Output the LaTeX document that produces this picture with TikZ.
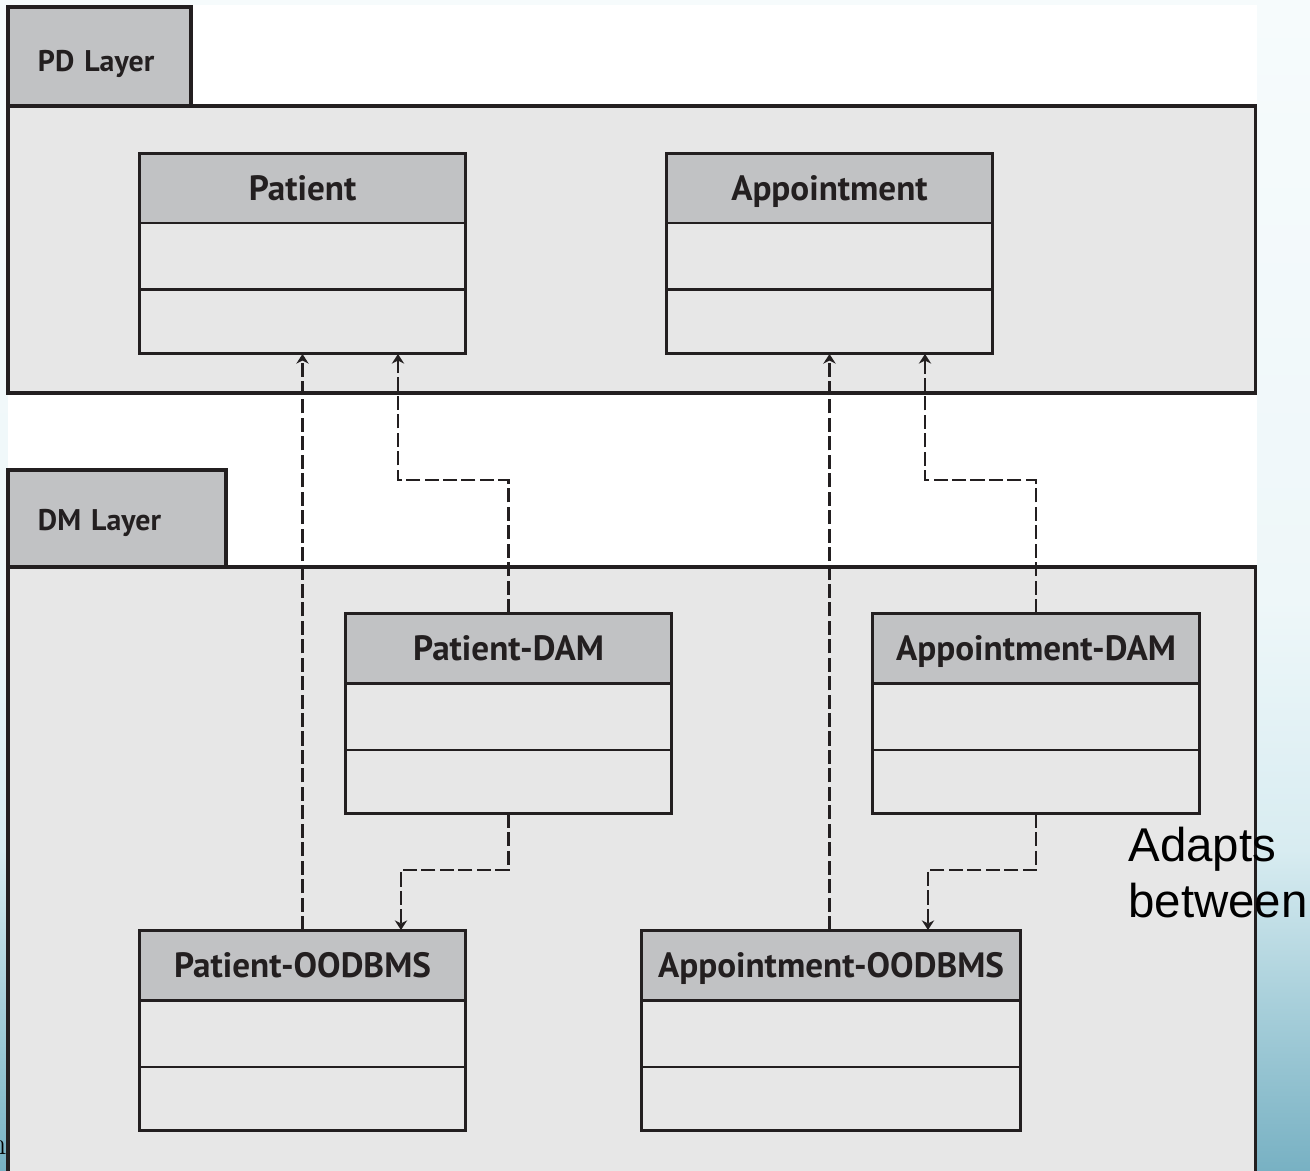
\documentclass[tikz,border=0pt]{standalone}
\usepackage{fontspec}
\newfontfamily\umlfont{PT Sans}
\newfontfamily\slidefont{Liberation Sans}
\usepackage{xcolor}
\usepackage{tikz}
\usetikzlibrary{positioning, arrows.meta, calc}

\definecolor{inkdark}{HTML}{231F20}
\definecolor{headgray}{HTML}{C1C2C4}
\definecolor{bodygray}{HTML}{E7E7E7}
\definecolor{slidetop}{HTML}{F6FBFC}
\definecolor{slidemid}{HTML}{EEF7F9}
\definecolor{slidelow}{HTML}{D8ECF1}
\definecolor{slidedeep}{HTML}{A9D0DB}
\definecolor{slidebot}{HTML}{78B1C3}

\begin{document}
\begin{tikzpicture}[x=0.02cm, y=-0.02cm, >={Stealth[length=5.5pt, width=7pt]}]
    % Styles
    \tikzstyle{layer} = [rectangle, draw=inkdark, line width=1.8pt, fill=bodygray, anchor=north west, minimum width=24.96cm, inner sep=0pt, outer sep=0pt]
    \tikzstyle{tab} = [rectangle, draw=inkdark, line width=1.8pt, fill=headgray, anchor=south west, outer sep=0pt, inner xsep=0.6cm, align=left, text depth=0pt, text=inkdark, font=\umlfont\bfseries\fontsize{17}{20}\selectfont]
    \tikzstyle{classhead} = [rectangle, draw=inkdark, line width=1.7pt, fill=headgray, minimum width=6.54cm, minimum height=1.4cm, outer sep=0pt, text height=14pt, text depth=0pt, text=inkdark, font=\umlfont\bfseries\fontsize{20}{24}\selectfont]
    \tikzstyle{classpart} = [rectangle, draw=inkdark, line width=1.7pt, fill=bodygray, minimum width=6.54cm, minimum height=1.34cm, outer sep=0pt]
    \tikzstyle{dep} = [->, dashed, dash pattern=on 8pt off 2.5pt, line width=1.5pt, draw=inkdark]

    % Slide behind the picture
    \clip (0,0) rectangle (1310,1170);
    \fill[top color=slidetop, bottom color=slidemid] (0,0) rectangle (1310,600);
    \fill[top color=slidemid, bottom color=slidelow] (0,600) rectangle (1310,850);
    \fill[top color=slidelow, bottom color=slidedeep] (0,850) rectangle (1310,1000);
    \fill[top color=slidedeep, bottom color=slidebot] (0,1000) rectangle (1310,1170);
    \node[anchor=base east, inner sep=0pt, font=\fontsize{18}{20}\selectfont] (slidefrag) at (7,1154) {n};
    \fill[white] (8,5) rectangle (1257,1170);

    % Layers
    \node [layer, minimum height=5.74cm] (pdlayer) at (8,106) {};
    \node [tab, text width=2.46cm, minimum height=1.98cm, text height=16.5pt] (pdtab) at (pdlayer.north west) {PD Layer};
    \node [layer, minimum height=12.3cm] (dmlayer) at (8,567) {};
    \node [tab, text width=3.16cm, minimum height=1.94cm, text height=14pt] (dmtab) at (dmlayer.north west) {DM Layer};

    % Classes
    \node [classhead] (patient) at (302.5,188) {Patient};
    \node [classpart, below=0pt of patient] (patient-a) {};
    \node [classpart, below=0pt of patient-a, minimum height=1.28cm] (patient-b) {};

    \node [classhead] (appt) at (829.5,188) {Appointment};
    \node [classpart, below=0pt of appt] (appt-a) {};
    \node [classpart, below=0pt of appt-a, minimum height=1.28cm] (appt-b) {};

    \node [classhead] (pdam) at (508.5,648) {Patient-DAM};
    \node [classpart, below=0pt of pdam] (pdam-a) {};
    \node [classpart, below=0pt of pdam-a, minimum height=1.28cm] (pdam-b) {};

    \node [classhead] (adam) at (1036,648) {Appointment-DAM};
    \node [classpart, below=0pt of adam] (adam-a) {};
    \node [classpart, below=0pt of adam-a, minimum height=1.28cm] (adam-b) {};

    \node [classhead] (poodbms) at (302.5,965) {Patient-OODBMS};
    \node [classpart, below=0pt of poodbms] (poodbms-a) {};
    \node [classpart, below=0pt of poodbms-a, minimum height=1.28cm] (poodbms-b) {};

    \node [classhead, minimum width=7.6cm] (aoodbms) at (831,965) {Appointment-OODBMS};
    \node [classpart, below=0pt of aoodbms, minimum width=7.6cm] (aoodbms-a) {};
    \node [classpart, below=0pt of aoodbms-a, minimum width=7.6cm, minimum height=1.28cm] (aoodbms-b) {};

    % Connections
    % DM -> PD
    \draw[dep] (poodbms.north) -- (patient-b.south);
    \draw[dep] (pdam.north) -- ++(0,-133) -| ([xshift=1.91cm]patient-b.south);
    \draw[dep] (appt-b.south |- aoodbms.north) -- (appt-b.south);
    \draw[dep] (adam.north) -- ++(0,-133) -| ([xshift=1.91cm]appt-b.south);

    % DAM -> OODBMS
    \draw[dep] (pdam-b.south) -- ++(0,56) -| ([xshift=1.97cm]poodbms.north);
    \draw[dep] (adam-b.south) -- ++(0,56) -| ([xshift=1.94cm]aoodbms.north);

    % Slide note
    \node[anchor=north west, inner sep=0pt, align=left, font=\slidefont\fontsize{27}{31.7}\selectfont] (adapts) at (1128,827) {Adapts\\between};

\end{tikzpicture}
\end{document}
